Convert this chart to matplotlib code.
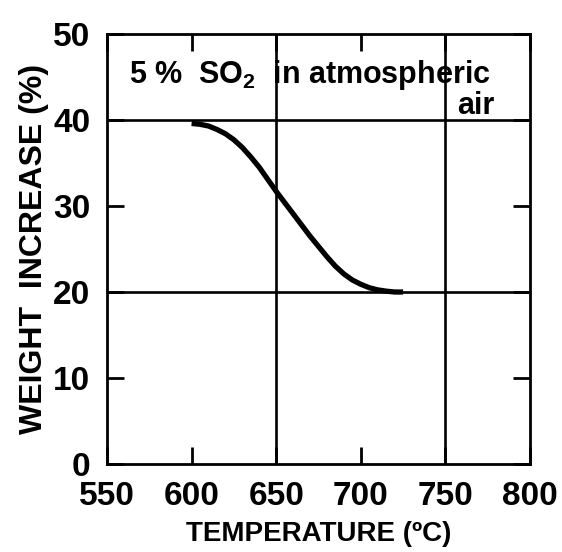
import matplotlib

matplotlib.use("Agg")
import matplotlib.pyplot as plt

# curve
temperature = [600, 605, 610, 615, 620, 625, 630, 635, 640, 645, 650, 655, 660, 665,
               670, 675, 680, 685, 690, 695, 700, 705, 710, 715, 720, 725]
weight_increase = [39.6, 39.5, 39.3, 38.9, 38.4, 37.7, 36.8, 35.7, 34.5, 33.1, 31.7, 30.4,
                   29.1, 27.8, 26.5, 25.3, 24.1, 23.0, 22.1, 21.4, 20.9, 20.5, 20.25, 20.1,
                   20.0, 20.0]

x_ticks = [550, 600, 650, 700, 750, 800]
y_ticks = [0, 10, 20, 30, 40, 50]
grid_x = [650, 750]
grid_y = [20, 40]

plt.rcParams["font.family"] = ["Liberation Sans", "DejaVu Sans"]
plt.rcParams["font.weight"] = "bold"
plt.rcParams["axes.labelweight"] = "bold"
plt.rcParams["mathtext.fontset"] = "custom"
plt.rcParams["mathtext.bf"] = "Liberation Sans:bold"
plt.rcParams["mathtext.rm"] = "Liberation Sans:bold"

fig = plt.figure(figsize=(5.62, 5.52), dpi=100)
ax = fig.add_axes([0.1904, 0.1594, 0.7526, 0.779])

for x in grid_x:
    ax.axvline(x, color="black", linewidth=1.9)
for y in grid_y:
    ax.axhline(y, color="black", linewidth=1.9)

ax.plot(temperature, weight_increase, color="black", linewidth=3.8, solid_capstyle="butt")

ax.set_xlim(550, 800)
ax.set_ylim(0, 50)
ax.set_xticks(x_ticks)
ax.set_yticks(y_ticks)
ax.tick_params(axis="both", direction="in", length=12, width=2.0, labelsize=24,
               top=True, right=True)
ax.tick_params(axis="x", pad=12)
ax.tick_params(axis="y", pad=12)
for spine in ax.spines.values():
    spine.set_linewidth(2.0)

ax.set_xlabel("TEMPERATURE (ºC)", fontsize=20, labelpad=7)
ax.set_ylabel("WEIGHT  INCREASE (%)", fontsize=23, labelpad=3)

ax.text(563, 45.2, "5 %  SO$_\\mathbf{2}$  in atmospheric", fontsize=22, va="center", ha="left")
ax.text(779, 41.6, "air", fontsize=22, va="center", ha="right")

fig.savefig("out.png", dpi=100)
